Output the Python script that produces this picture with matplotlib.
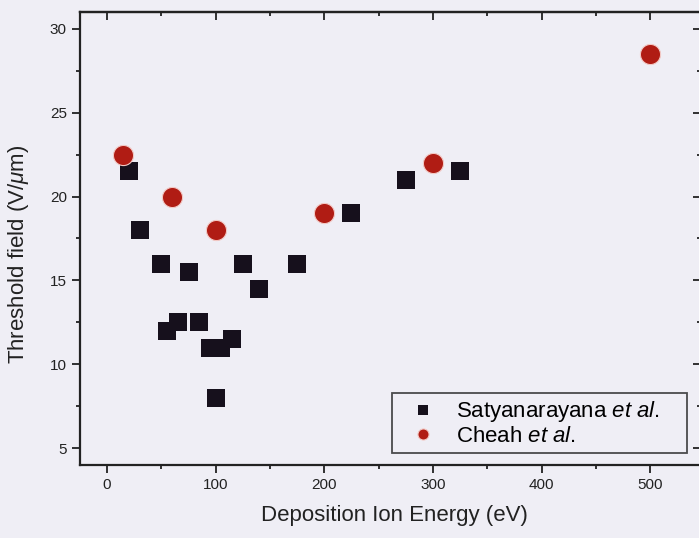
import matplotlib.pyplot as plt
from matplotlib.ticker import MultipleLocator

plt.rcParams['font.family'] = ['Liberation Sans', 'DejaVu Sans']
plt.rcParams['mathtext.fontset'] = 'custom'
plt.rcParams['mathtext.it'] = 'Liberation Sans:italic'
plt.rcParams['mathtext.rm'] = 'Liberation Sans'

# Satyanarayana et al.
sat_energy = [20, 30, 50, 55, 65, 75, 85, 95, 105, 115, 100, 125, 140, 175, 225, 275, 325]
sat_field = [21.5, 18, 16, 12, 12.5, 15.5, 12.5, 11, 11, 11.5, 8, 16, 14.5, 16, 19, 21, 21.5]

# Cheah et al.
cheah_energy = [15, 60, 100, 200, 300, 500]
cheah_field = [22.5, 20, 18, 19, 22, 28.5]

bg = '#efeef5'
ink = '#222222'
fig = plt.figure(figsize=(6.99, 5.38), dpi=100, facecolor=bg)
ax = fig.add_axes([0.1144, 0.1357, 0.888, 0.842])
ax.set_facecolor(bg)

ax.plot(sat_energy, sat_field, 's', color='#16101c', markersize=13, mew=0,
        label=r'Satyanarayana $et\ al.$')
ax.plot(cheah_energy, cheah_field, 'o', color='#b01c14', markersize=14.5,
        mew=0.8, mec='#f2c8c4', label=r'Cheah $et\ al.$')

ax.set_xlim(-25, 546.5)
ax.set_ylim(4, 31)
ax.xaxis.set_major_locator(MultipleLocator(100))
ax.xaxis.set_minor_locator(MultipleLocator(50))
ax.yaxis.set_major_locator(MultipleLocator(5))
ax.yaxis.set_minor_locator(MultipleLocator(2.5))
ax.tick_params(which='both', direction='out', top=False, right=False, labelsize=11,
               colors=ink, width=1.3)
ax.tick_params(which='major', length=6)
ax.tick_params(which='minor', length=3)

# inward ticks on the top and right edges
top = ax.secondary_xaxis('top')
top.xaxis.set_major_locator(MultipleLocator(100))
top.xaxis.set_minor_locator(MultipleLocator(50))
top.tick_params(which='both', direction='in', labeltop=False, colors=ink, width=1.3)
top.tick_params(which='major', length=6)
top.tick_params(which='minor', length=3)
right = ax.secondary_yaxis('right')
right.yaxis.set_major_locator(MultipleLocator(5))
right.yaxis.set_minor_locator(MultipleLocator(2.5))
right.tick_params(which='both', direction='in', labelright=False, colors=ink, width=1.3)
right.tick_params(which='major', length=6)
right.tick_params(which='minor', length=3)

for s in list(ax.spines.values()) + [top.spines['top'], right.spines['right']]:
    s.set_linewidth(1.6)
    s.set_color(ink)

ax.set_xlabel('Deposition Ion Energy (eV)', fontsize=16, color=ink)
ax.set_ylabel(r'Threshold field (V/$\mu$m)', fontsize=16, color=ink)
ax.xaxis.set_label_coords(0.506, -0.088)
ax.yaxis.set_label_coords(-0.079, 0.464)

leg = ax.legend(loc='lower left', bbox_to_anchor=(0.503, 0.026, 0.475, 0.1),
                mode='expand', fontsize=16,
                frameon=True, fancybox=False, edgecolor=ink, facecolor=bg,
                numpoints=1, handlelength=2.2, handletextpad=0.35,
                borderpad=0.3, labelspacing=0.05, borderaxespad=0,
                markerscale=0.55)
leg.get_frame().set_linewidth(1.3)

fig.savefig('out.png', dpi=100, facecolor=bg)
